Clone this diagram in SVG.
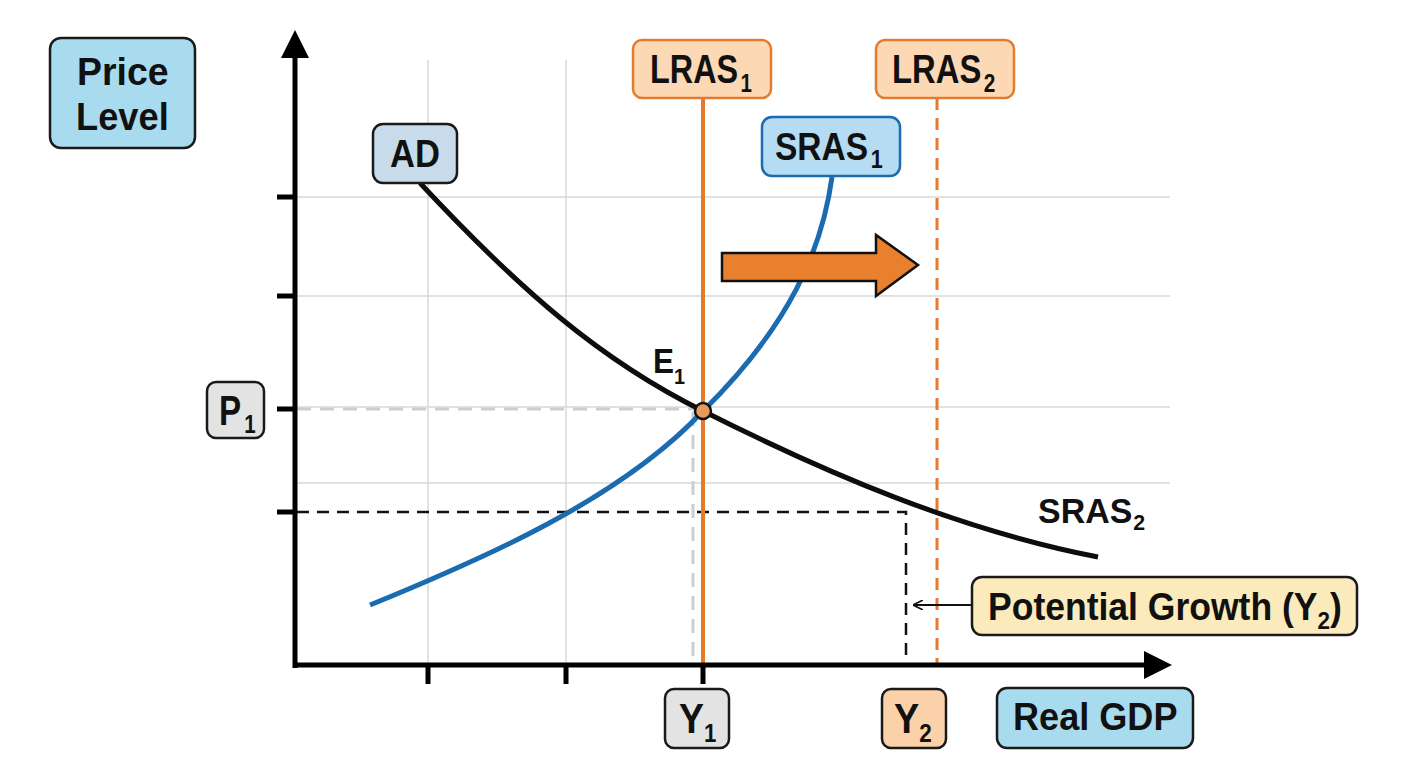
<svg xmlns="http://www.w3.org/2000/svg" width="1408" height="768" viewBox="0 0 1408 768">
<defs>
<style>
.t{font-family:"Liberation Sans",Arial,sans-serif;font-weight:bold;fill:#111}
.grid{stroke:#d9d9d9;stroke-width:1.5;fill:none}
.box{stroke:#1a1a1a;stroke-width:2.5}
.ob{fill:#fcd8b4;stroke:#e37c30;stroke-width:2.5}
</style>
<marker id="ah" viewBox="0 0 10 10" refX="9" refY="5" markerWidth="10" markerHeight="10" markerUnits="userSpaceOnUse" orient="auto">
<path d="M0,0 L10,5 L0,10" fill="none" stroke="#111" stroke-width="1.6"/>
</marker>
</defs>
<rect width="1408" height="768" fill="#ffffff"/>
<g id="grid">
<path class="grid" d="M428,60V665M566,60V665M703,60V665M295,197H1170M295,296H1170M295,407H1170M295,483H1170"/>
</g>
<g id="connectors">
<path d="M297,409H700" stroke="#c9ced3" stroke-width="3" stroke-dasharray="14,9" fill="none"/>
<path d="M693,412V665" stroke="#c9ced3" stroke-width="3" stroke-dasharray="14,9" fill="none"/>
<path d="M297,512H906V665" stroke="#111" stroke-width="2.5" stroke-dasharray="12,8" fill="none"/>
<path d="M703,98V665" stroke="#e8792b" stroke-width="4" fill="none"/>
<path d="M937,98V665" stroke="#e8792b" stroke-width="3" stroke-dasharray="12,8" fill="none"/>
<path d="M370,605 C480,560 620,500 703,411 C790,325 822,250 832,177" stroke="#1a6bb0" stroke-width="5" fill="none"/>
<path d="M420,183 C520,290 600,360 703,411 C830,475 960,530 1098,557" stroke="#0d0d0d" stroke-width="5" fill="none"/>
<path d="M722,253 H876 V235 L918,265 L876,296 V281 H722 Z" fill="#e8802d" stroke="#111" stroke-width="2.5" stroke-linejoin="miter"/>
<path d="M972,605 H914" stroke="#111" stroke-width="2" marker-end="url(#ah)" fill="none"/>
</g>
<g id="axes">
<path d="M295,55V668" stroke="#000" stroke-width="5"/>
<path d="M293,665H1148" stroke="#000" stroke-width="5"/>
<path d="M295,30 L309,58 L281,58 Z" fill="#000"/>
<path d="M1172,665 L1144,651 L1144,679 Z" fill="#000"/>
<path d="M277,197H295M277,296H295M277,409H295M277,512H295M428,665V684M566,665V684M703,665V684" stroke="#000" stroke-width="5"/>
</g>
<g id="eq">
<circle cx="703" cy="411" r="8" fill="#e89a5c" stroke="#111" stroke-width="2.5"/>
<text class="t" transform="translate(653,373) scale(0.9,1)" font-size="35">E<tspan font-size="22" dy="11">1</tspan></text>
</g>
<g id="price-level">
<rect class="box" x="50" y="38" width="145" height="110" rx="11" fill="#a9dbee"/>
<text class="t" transform="translate(77,85) scale(0.96,1)" font-size="39">Price</text>
<text class="t" transform="translate(76,130) scale(0.93,1)" font-size="39">Level</text>
</g>
<g id="ad">
<rect class="box" x="373" y="124" width="84" height="59" rx="10" fill="#c8dbea"/>
<text class="t" transform="translate(390,167) scale(0.91,1)" font-size="38">AD</text>
</g>
<g id="lras1">
<rect class="ob" x="633" y="40" width="138" height="58" rx="9"/>
<text class="t" transform="translate(650,83) scale(0.79,1)" font-size="41">LRAS<tspan font-size="26" dy="9" dx="3">1</tspan></text>
</g>
<g id="lras2">
<rect class="ob" x="876" y="40" width="138" height="58" rx="9"/>
<text class="t" transform="translate(892,83) scale(0.8,1)" font-size="41">LRAS<tspan font-size="26" dy="9" dx="3">2</tspan></text>
</g>
<g id="sras1">
<rect x="762" y="117" width="138" height="59" rx="10" fill="#b5dcf2" stroke="#1a6bb0" stroke-width="2.5"/>
<text class="t" transform="translate(775,160) scale(0.86,1)" font-size="39">SRAS<tspan font-size="25" dy="8" dx="3">1</tspan></text>
</g>
<g id="sras2">
<text class="t" transform="translate(1038,523) scale(0.97,1)" font-size="35">SRAS<tspan font-size="22" dy="7" dx="1">2</tspan></text>
</g>
<g id="p1">
<rect class="box" x="207" y="382" width="57" height="56" rx="9" fill="#e3e3e3"/>
<text class="t" transform="translate(219,425) scale(0.79,1)" font-size="42">P<tspan font-size="26" dy="8" dx="4">1</tspan></text>
</g>
<g id="y1">
<rect class="box" x="665" y="689" width="64" height="59" rx="9" fill="#e3e3e3"/>
<text class="t" transform="translate(679,733) scale(0.89,1)" font-size="42">Y<tspan font-size="25" dy="9" dx="0">1</tspan></text>
</g>
<g id="y2">
<rect class="box" x="882" y="689" width="64" height="59" rx="9" fill="#fbd1a9"/>
<text class="t" transform="translate(894,733) scale(0.9,1)" font-size="42">Y<tspan font-size="25" dy="9" dx="0">2</tspan></text>
</g>
<g id="real-gdp">
<rect class="box" x="997" y="688" width="196" height="60" rx="10" fill="#a9dbee"/>
<text class="t" transform="translate(1013,730) scale(0.95,1)" font-size="38">Real GDP</text>
</g>
<g id="potential-growth">
<rect class="box" x="972" y="577" width="385" height="58" rx="10" fill="#fbeabb"/>
<text class="t" transform="translate(988,620) scale(0.935,1)" font-size="38">Potential Growth (Y<tspan font-size="24" dy="9">2</tspan><tspan dy="-9">)</tspan></text>
</g>
</svg>
